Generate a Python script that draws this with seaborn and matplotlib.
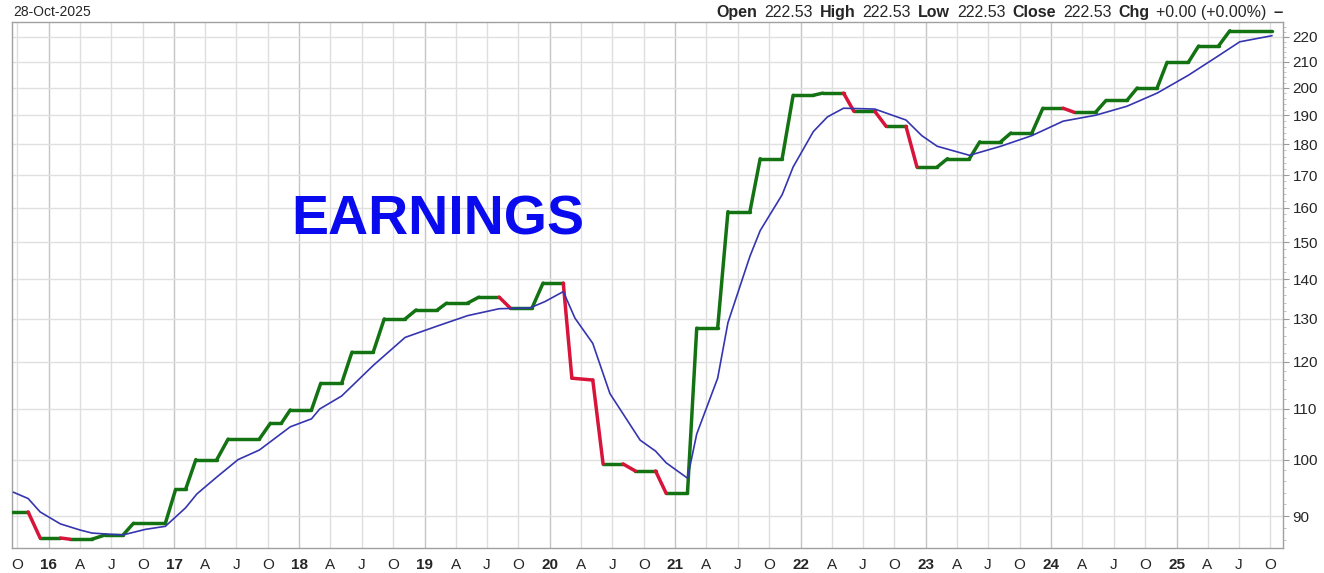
import pandas as pd
import matplotlib
matplotlib.use("Agg")
import matplotlib.pyplot as plt
import matplotlib.dates as mdates
from matplotlib.ticker import FixedLocator, FixedFormatter, NullFormatter
from matplotlib.offsetbox import TextArea, HPacker, AnchoredOffsetbox
import seaborn as sns

# ===== data =====
eps_dates = [
    "2015-09-17", "2015-11-02", "2015-12-07", "2016-02-04", "2016-03-03", "2016-05-06",
    "2016-06-14", "2016-08-05", "2016-09-04", "2016-12-06", "2017-01-05", "2017-02-03",
    "2017-03-05", "2017-05-05", "2017-06-07", "2017-09-06", "2017-10-08", "2017-11-09",
    "2017-12-05", "2018-02-05", "2018-03-04", "2018-05-04", "2018-06-03", "2018-08-04",
    "2018-09-05", "2018-11-05", "2018-12-07", "2019-02-07", "2019-03-06", "2019-05-06",
    "2019-06-08", "2019-08-06", "2019-09-07", "2019-11-10", "2019-12-12", "2020-02-09",
    "2020-03-05", "2020-05-05", "2020-06-04", "2020-08-01", "2020-09-06", "2020-11-04",
    "2020-12-05", "2021-02-05", "2021-03-04", "2021-05-04", "2021-06-03", "2021-08-06",
    "2021-09-05", "2021-11-08", "2021-12-10", "2022-02-07", "2022-03-06", "2022-05-06",
    "2022-06-05", "2022-08-05", "2022-09-07", "2022-11-04", "2022-12-06", "2023-02-03",
    "2023-03-05", "2023-05-08", "2023-06-07", "2023-08-07", "2023-09-06", "2023-11-06",
    "2023-12-08", "2024-02-05", "2024-03-07", "2024-05-10", "2024-06-09", "2024-08-09",
    "2024-09-08", "2024-11-05", "2024-12-04", "2025-02-04", "2025-03-06", "2025-05-03",
    "2025-06-05", "2025-10-06",
]
eps_values = [
    90.7, 90.7, 86.4, 86.4, 86.2, 86.2,
    86.9, 86.9, 88.8, 88.8, 94.6, 94.6,
    100.0, 100.0, 103.9, 103.9, 107.0, 107.0,
    109.7, 109.7, 115.3, 115.3, 122.2, 122.2,
    130.0, 130.0, 132.2, 132.2, 133.9, 133.9,
    135.4, 135.4, 132.7, 132.7, 139.0, 139.0,
    116.4, 116.0, 99.2, 99.2, 97.9, 97.9,
    93.9, 93.9, 127.8, 127.8, 158.8, 158.8,
    175.3, 175.3, 197.3, 197.3, 198.1, 198.1,
    191.5, 191.5, 186.2, 186.2, 172.6, 172.6,
    175.3, 175.3, 180.9, 180.9, 183.9, 183.9,
    192.6, 192.6, 191.2, 191.2, 195.4, 195.4,
    200.0, 200.0, 209.8, 209.8, 216.3, 216.3,
    222.53, 222.53,
]

avg_dates = [
    "2015-09-20", "2015-11-02", "2015-12-07", "2016-02-04", "2016-04-01", "2016-05-06",
    "2016-06-28", "2016-08-05", "2016-10-09", "2016-12-06", "2017-02-03", "2017-03-08",
    "2017-05-05", "2017-07-06", "2017-09-06", "2017-12-05", "2018-02-05", "2018-03-01",
    "2018-05-04", "2018-08-04", "2018-11-05", "2019-02-07", "2019-05-06", "2019-08-06",
    "2019-11-04", "2019-12-18", "2020-02-09", "2020-03-14", "2020-05-05", "2020-06-24",
    "2020-09-20", "2020-11-04", "2020-12-05", "2021-02-05", "2021-03-04", "2021-05-04",
    "2021-06-03", "2021-08-06", "2021-09-05", "2021-11-08", "2021-12-10", "2022-02-07",
    "2022-03-20", "2022-05-06", "2022-08-05", "2022-11-04", "2022-12-20", "2023-02-03",
    "2023-05-08", "2023-08-07", "2023-11-06", "2024-02-05", "2024-05-10", "2024-08-09",
    "2024-11-05", "2025-02-04", "2025-05-03", "2025-07-04", "2025-10-06",
]
avg_values = [
    94.1, 93.0, 90.7, 88.7, 87.7, 87.2,
    87.0, 86.9, 87.8, 88.3, 91.4, 93.8,
    96.8, 100.0, 101.8, 106.3, 107.9, 109.9,
    112.6, 119.2, 125.6, 128.3, 130.8, 132.5,
    132.7, 134.3, 136.8, 130.2, 124.2, 113.1,
    103.7, 101.6, 99.4, 96.6, 104.9, 116.4,
    129.1, 146.1, 153.3, 163.9, 172.6, 184.4,
    189.5, 192.6, 192.3, 188.4, 183.0, 179.4,
    176.4, 179.4, 183.0, 188.0, 190.1, 193.3,
    198.1, 204.8, 212.4, 218.0, 220.5,
]

y_ticks = [90, 100, 110, 120, 130, 140, 150, 160, 170, 180, 190, 200, 210, 220]
quarter_letters = {4: "A", 7: "J", 10: "O"}
header_left = "28-Oct-2025"
header_right = [("Open", "222.53"), ("High", "222.53"), ("Low", "222.53"),
                ("Close", "222.53"), ("Chg", "+0.00 (+0.00%)")]

# ===== prepare frames =====
eps = pd.DataFrame({"date": pd.to_datetime(eps_dates), "eps": eps_values})
avg = pd.DataFrame({"date": pd.to_datetime(avg_dates), "eps": avg_values})

# one row pair per segment, coloured by direction
rows = []
for i in range(len(eps) - 1):
    d = "down" if eps.eps[i + 1] < eps.eps[i] else "up"
    rows.append((i, d, eps.date[i], eps.eps[i]))
    rows.append((i, d, eps.date[i + 1], eps.eps[i + 1]))
seg = pd.DataFrame(rows, columns=["seg", "dir", "date", "eps"])

# ===== plot =====
sns.set_style("white")
plt.rcParams["font.family"] = ["Liberation Sans", "DejaVu Sans"]

fig = plt.figure(figsize=(13.24, 5.73), dpi=100)
ax = fig.add_axes([12 / 1324, 25 / 573, 1271 / 1324, 526 / 573])

sns.lineplot(data=seg, x="date", y="eps", hue="dir", units="seg", estimator=None,
             palette={"up": "#137313", "down": "#d8143a"}, linewidth=2.5,
             solid_capstyle="round", legend=False, ax=ax, zorder=3)
sns.lineplot(data=avg, x="date", y="eps", color="#3535b0", linewidth=1.2,
             ax=ax, zorder=4)

ax.set_yscale("log")
ax.set_ylim(84.8, 226.2)
ax.set_xlim(pd.Timestamp("2015-09-16"), pd.Timestamp("2025-11-07"))

# y axis on the right
ax.yaxis.tick_right()
ax.yaxis.set_major_locator(FixedLocator(y_ticks))
ax.yaxis.set_major_formatter(FixedFormatter([str(t) for t in y_ticks]))
ax.yaxis.set_minor_locator(FixedLocator(range(86, 226, 2)))
ax.yaxis.set_minor_formatter(NullFormatter())
ax.tick_params(axis="y", which="major", length=4, width=0.8, color="#999999",
               labelsize=11, pad=3)
ax.tick_params(axis="y", which="minor", length=2, width=0.6, color="#bbbbbb")

# quarterly x ticks
quarters = pd.date_range("2015-10-01", "2025-10-01", freq="QS-JAN")
xlabels = [f"{q.year % 100:02d}" if q.month == 1 else quarter_letters[q.month]
           for q in quarters]
ax.set_xticks(quarters)
ax.set_xticklabels(xlabels)
for lab, q in zip(ax.get_xticklabels(), quarters):
    if q.month == 1:
        lab.set_fontweight("bold")
ax.xaxis.set_minor_locator(mdates.MonthLocator())
ax.tick_params(axis="x", which="major", length=3, width=0.8, color="#bbbbbb",
               labelsize=11, pad=4)
ax.tick_params(axis="x", which="minor", length=2, width=0.6, color="#cccccc")
ax.set_xlabel("")
ax.set_ylabel("")

# grid
for q in quarters:
    ax.axvline(q, color="#c4c4c4" if q.month == 1 else "#dedede",
               linewidth=1, zorder=1)
for t in y_ticks:
    ax.axhline(t, color="#e0e0e0", linewidth=1, zorder=1)

for s in ax.spines.values():
    s.set_color("#a0a0a0")
    s.set_linewidth(1)

ax.text(0.2195, 0.622, "EARNINGS", transform=ax.transAxes, color="#0a0aee",
        fontsize=40, fontweight="bold", ha="left", va="center", zorder=5)

# header
fig.text(13 / 1324, 1 - 12 / 573, header_left, fontsize=10, ha="left", va="center")
parts = []
for key, val in header_right:
    parts.append(TextArea(key, textprops=dict(fontsize=11.5, fontweight="bold")))
    parts.append(TextArea(val, textprops=dict(fontsize=11.5)))
parts.append(TextArea("\u2013", textprops=dict(fontsize=12, fontweight="bold")))
box = HPacker(children=parts, align="baseline", pad=0, sep=5)
anchored = AnchoredOffsetbox(loc="lower right", child=box, pad=0, borderpad=0,
                             frameon=False, bbox_to_anchor=(1.0, 1.003),
                             bbox_transform=ax.transAxes)
ax.add_artist(anchored)

fig.savefig("out.png", dpi=100, facecolor="white")
plt.close()
print("done")
